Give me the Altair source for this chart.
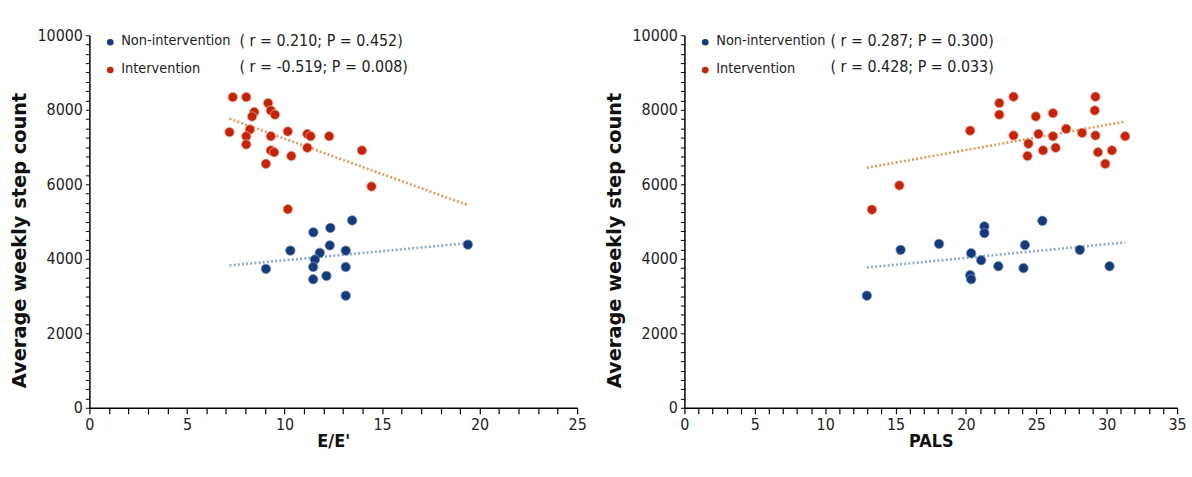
import altair as alt
import pandas as pd

# ---- data ----
ee_int_x = [7.35, 8.04, 9.16, 8.45, 8.34, 9.30, 9.51, 7.18, 8.23, 8.04, 8.04, 9.30,
            10.17, 11.17, 11.34, 12.29, 9.30, 9.47, 10.35, 11.17, 9.05, 13.97, 14.46, 10.17]
ee_int_y = [8340, 8340, 8180, 7940, 7820, 7980, 7870, 7400, 7470, 7290, 7070, 7290,
            7420, 7350, 7290, 7290, 6910, 6860, 6760, 6980, 6550, 6910, 5940, 5330]
ee_non_x = [11.48, 12.35, 13.47, 12.32, 11.81, 11.56, 11.47, 10.30, 9.05, 11.47, 12.15,
            13.14, 13.14, 13.14, 19.40]
ee_non_y = [4710, 4830, 5030, 4360, 4160, 3980, 3780, 4220, 3730, 3450, 3540,
            4220, 3780, 3010, 4380]

pals_int_x = [13.32, 15.27, 20.30, 22.37, 22.37, 23.38, 23.38, 24.44, 24.37, 24.96, 25.15, 25.48,
              26.18, 26.18, 26.37, 27.12, 28.25, 29.20, 29.15, 29.20, 29.38, 30.37, 29.90, 31.31]
pals_int_y = [5320, 5970, 7440, 8180, 7870, 8350, 7310, 7090, 6760, 7820, 7350, 6910,
              7910, 7290, 6980, 7490, 7380, 8350, 7980, 7310, 6860, 6910, 6550, 7290]
pals_non_x = [12.96, 15.36, 18.09, 20.37, 20.30, 20.37, 21.31, 21.31, 21.08, 22.30, 24.19,
              24.09, 25.43, 28.09, 30.20]
pals_non_y = [3010, 4240, 4400, 4150, 3560, 3450, 4870, 4690, 3960, 3800, 4370,
              3750, 5020, 4240, 3800]

groups = ["Non-intervention", "Intervention"]
ee_stats = ["( r = 0.210; P = 0.452)", "( r = -0.519; P = 0.008)"]
pals_stats = ["( r = 0.287; P = 0.300)", "( r = 0.428; P = 0.033)"]

point_colors = ["#143a78", "#c4240e"]
point_strokes = ["#6f8fc0", "#f0a080"]
line_colors = ["#8fa8cc", "#dd9a62"]

LABEL_FONT = "'DejaVu Sans Condensed', 'Liberation Sans Narrow', 'Roboto Condensed', Roboto, sans-serif"
TITLE_FONT = "'DejaVu Sans', sans-serif"


def make_df(nx, ny, ix, iy):
    rows = [{"x": a, "y": b, "group": groups[0]} for a, b in zip(nx, ny)]
    rows += [{"x": a, "y": b, "group": groups[1]} for a, b in zip(ix, iy)]
    return pd.DataFrame(rows)


def panel(df, xmax, xtitle, stats, w, stats_x):
    xvals = list(range(0, xmax + 1))
    yvals = list(range(0, 10001, 250))
    xs = alt.X("x:Q", scale=alt.Scale(domain=[0, xmax], nice=False, zero=True),
               axis=alt.Axis(values=xvals, labelExpr="datum.value % 5 == 0 ? datum.label : ''",
                             title=xtitle, grid=False, tickSize=6, tickColor="#000",
                             domainColor="#000", domainWidth=1.5, tickWidth=1.2,
                             labelFont=LABEL_FONT, labelFontSize=16, labelColor="#222",
                             labelPadding=3, titleFont=LABEL_FONT, titleFontSize=18,
                             titleFontWeight="bold", titleColor="#111", titlePadding=0,
                             labelFlush=False, labelOverlap=False))
    ys = alt.Y("y:Q", scale=alt.Scale(domain=[0, 10000], nice=False),
               axis=alt.Axis(values=yvals, labelExpr="datum.value % 2000 == 0 ? datum.label : ''",
                             format="d", title="Average weekly step count", grid=False,
                             tickSize=4, tickColor="#000", domainColor="#000", domainWidth=1.5,
                             tickWidth=1, labelFont=LABEL_FONT, labelFontSize=16,
                             labelColor="#222", labelPadding=3, titleFont=TITLE_FONT,
                             titleFontSize=19.5, titleFontWeight="bold", titleColor="#111",
                             titlePadding=8, titleY=206, labelOverlap=False, labelFlush=False))
    lo, hi = float(df["x"].min()), float(df["x"].max())
    base = alt.Chart(df)
    layers = []
    for g, lc in zip(groups, line_colors):
        layers.append(
            base.transform_filter(alt.datum.group == g)
            .transform_regression("x", "y", extent=[lo, hi])
            .mark_line(strokeDash=[2, 2.2], strokeWidth=2.6, color=lc)
            .encode(x=xs, y=ys)
        )
    for g, pc, sc in zip(groups, point_colors, point_strokes):
        layers.append(
            base.transform_filter(alt.datum.group == g)
            .mark_circle(size=90, color=pc, opacity=1, stroke=sc, strokeWidth=0.8)
            .encode(x=xs, y=ys)
        )
    one = pd.DataFrame({"k": [0]})
    ypos = [7, 35]
    stats_y = [6, 32]
    for i, g in enumerate(groups):
        layers.append(alt.Chart(one).mark_circle(size=45, color=point_colors[i], opacity=1)
                      .encode(x=alt.value(21), y=alt.value(ypos[i])))
        layers.append(alt.Chart(one).mark_text(text=g, align="left", baseline="middle",
                                               font=LABEL_FONT, fontSize=14.5, color="#222")
                      .encode(x=alt.value(32), y=alt.value(ypos[i] - 1)))
        layers.append(alt.Chart(one).mark_text(text=stats[i], align="left", baseline="middle",
                                               font=LABEL_FONT, fontSize=16, color="#222")
                      .encode(x=alt.value(stats_x), y=alt.value(stats_y[i])))
    return alt.layer(*layers).properties(width=w, height=375)


left = panel(make_df(ee_non_x, ee_non_y, ee_int_x, ee_int_y), 25, "E/E'", ee_stats, 491, 151)
right = panel(make_df(pals_non_x, pals_non_y, pals_int_x, pals_int_y), 35, "PALS", pals_stats, 496, 147)

chart = alt.hconcat(left, right, spacing=17).properties(
    padding={"left": 9, "top": 26, "right": 5, "bottom": 5},
    background="white",
).configure_view(stroke=None)

chart.save("out.html", embed_options={"renderer": "svg", "actions": False})
